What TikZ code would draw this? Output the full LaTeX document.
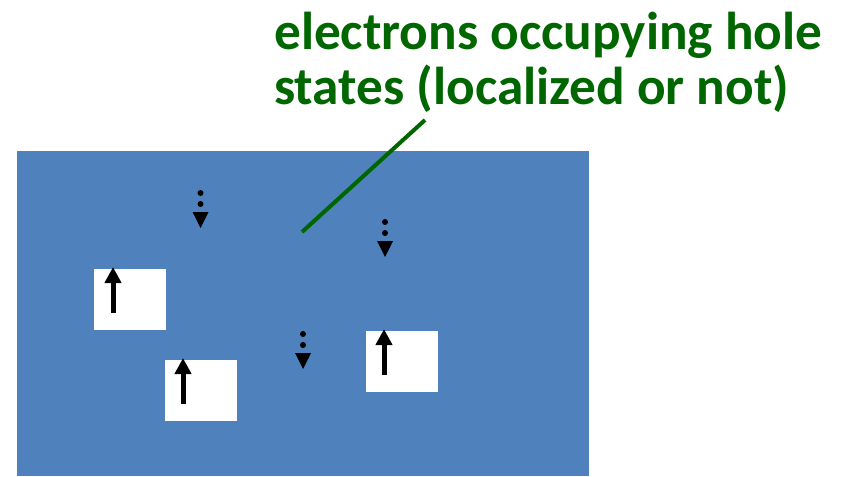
\documentclass[tikz,border=0pt]{standalone}
\usepackage{fontspec}
\setmainfont{Carlito}
\usepackage{xcolor}
\usepackage{tikz}
\usetikzlibrary{arrows.meta}

\definecolor{slabblue}{HTML}{4F81BD}
\definecolor{labelgreen}{RGB}{0,102,0}

\begin{document}
\begin{tikzpicture}[
      x=1pt, y=-1pt,
      hole/.style={draw=none, fill=white, minimum width=72pt, minimum height=61pt, inner sep=0pt},
      upspin/.style={line width=5pt, -{Triangle[width=16pt, length=16pt]}},
      dot/.style={circle, fill=black, inner sep=0pt, minimum size=6pt},
      note/.style={font=\bfseries\fontsize{53.3}{55}\selectfont, text=labelgreen, align=left, inner sep=0pt}
    ]
    \useasboundingbox (0,0) rectangle (842,476);
    % crystal
    \fill[slabblue] (17,151) rectangle (589,476);
    % empty sites with up spins
    \node[hole] (site1) at (130,299.5) {};
    \node[hole] (site2) at (201,390.5) {};
    \node[hole] (site3) at (402,361.5) {};
    \draw[upspin] (113,313) -- (113,267);
    \draw[upspin] (183,404) -- (183,358);
    \draw[upspin] (384,375) -- (384,329);
    % electrons in hole states (dotted down spins)
    \foreach \name/\x/\y in {down1/200.5/193, down2/385/222, down3/303/334} {
      \node[dot] (\name a) at (\x,\y) {};
      \node[dot] (\name b) at (\x,\y+11) {};
      \fill (\x-8,\y+19) -- (\x+8,\y+19) -- (\x,\y+35) -- cycle;
    }
    % label
    \node[note, anchor=base west] (label) at (274,105) {electrons occupying hole\\states (localized or not)};
    \coordinate (pointer) at (302,232);
    \coordinate (labeltip) at (425,120);
    \draw[labelgreen, line width=4pt] (pointer) -- (labeltip);
  \end{tikzpicture}
\end{document}
